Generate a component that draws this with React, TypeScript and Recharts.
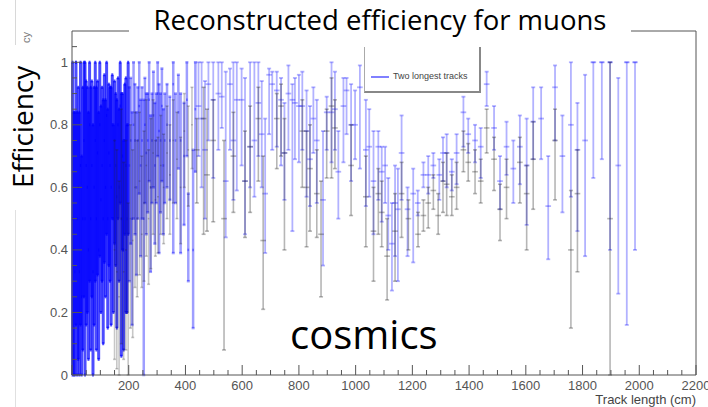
import React from 'react';
import { ComposedChart, Scatter, ErrorBar, XAxis, YAxis, ReferenceLine } from 'recharts';

type Row = [number, number, number, number]; // [track length cm, efficiency, lower bound, upper bound]

const titleText = 'Reconstructed efficiency for muons';
const yTitle = 'Efficiency';
const xTitle = 'Track length (cm)';
const sampleLabel = 'cosmics';
const legendLabel = 'Two longest tracks';

const xTicks = [0, 50, 100, 150, 200, 250, 300, 350, 400, 450, 500, 550, 600, 650, 700, 750, 800, 850, 900, 950, 1000, 1050, 1100, 1150, 1200, 1250, 1300, 1350, 1400, 1450, 1500, 1550, 1600, 1650, 1700, 1750, 1800, 1850, 1900, 1950, 2000, 2050, 2100, 2150, 2200];
const yTicks = [0, 0.05, 0.1, 0.15, 0.2, 0.25, 0.3, 0.35, 0.4, 0.45, 0.5, 0.55, 0.6, 0.65, 0.7, 0.75, 0.8, 0.85, 0.9, 0.95, 1, 1.05];

// Two longest tracks: short tracks (fine bins)
const blueShort: Row[] = [
  [2, 0.5, 0, 1], [6, 0.4, 0, 0.84], [10, 0.33, 0, 0.84], [14, 1.0, 0.16, 1.0], [18, 0.5, 0, 0.84],
  [22, 0.6, 0.05, 0.92], [26, 0.33, 0, 0.84], [30, 0.67, 0.16, 1.0], [34, 0.25, 0, 0.7], [38, 0.5, 0.08, 0.92],
  [42, 0.75, 0.25, 1.0], [46, 0.5, 0, 1], [50, 0.67, 0.16, 0.94], [54, 0.6, 0.2, 0.92], [58, 0.4, 0.05, 0.84],
  [62, 0.8, 0.3, 1.0], [66, 0.5, 0.08, 0.92], [70, 0.67, 0.25, 0.94], [74, 0.33, 0, 0.8], [78, 0.6, 0.16, 0.92],
  [82, 0.75, 0.3, 1.0], [86, 0.5, 0.08, 0.92], [90, 0.71, 0.32, 0.94], [94, 0.4, 0.05, 0.84], [98, 0.8, 0.38, 1.0],
  [102, 0.56, 0.2, 0.86], [106, 0.67, 0.3, 0.92], [110, 0.5, 0.1, 0.88], [114, 0.75, 0.36, 0.96], [118, 0.6, 0.25, 0.88],
  [122, 0.83, 0.45, 1.0], [126, 0.5, 0.15, 0.85], [130, 0.71, 0.35, 0.93], [134, 0.67, 0.3, 0.92], [138, 0.6, 0.16, 0.92],
  [142, 0.8, 0.5, 0.96], [146, 0.5, 0.2, 0.8], [150, 0.75, 0.42, 0.94], [154, 0.67, 0.35, 0.9], [158, 0.57, 0.15, 0.88],
  [162, 0.8, 0.5, 0.95], [166, 0.6, 0.3, 0.85], [170, 0.86, 0.55, 1.0], [174, 0.5, 0.06, 0.9], [178, 0.7, 0.4, 0.9],
  [182, 0.4, 0.08, 0.75], [186, 0.75, 0.45, 0.93], [190, 0.67, 0.2, 0.95], [194, 0.5, 0.2, 0.8], [198, 0.8, 0.45, 1.0],
];

// Two longest tracks: medium tracks
const blueMid: Row[] = [
  [202, 0.67, 0.3, 0.92], [207, 0.75, 0.42, 0.95], [212, 0.5, 0.16, 0.84], [217, 0.8, 0.5, 1.0], [222, 0.75, 0.45, 0.93],
  [227, 0.6, 0.32, 0.84], [232, 0.75, 0.5, 0.92], [237, 0.86, 0.58, 1.0], [242, 0.67, 0.38, 0.88], [247, 0.75, 0.5, 0.92],
  [253, 0.5, 0.0, 0.88], [257, 0.8, 0.55, 0.95], [262, 0.71, 0.45, 0.9], [267, 0.75, 0.52, 0.9], [272, 0.88, 0.62, 1.0],
  [277, 0.6, 0.33, 0.83], [282, 0.75, 0.55, 0.9], [287, 0.83, 0.6, 0.97], [292, 0.67, 0.42, 0.87], [297, 0.75, 0.55, 0.9],
  [302, 0.9, 0.7, 1.0], [307, 0.78, 0.39, 0.93], [312, 0.75, 0.52, 0.9], [317, 0.86, 0.62, 0.98], [322, 0.67, 0.45, 0.85],
  [327, 0.75, 0.55, 0.9], [335, 0.8, 0.6, 0.93], [345, 0.75, 0.56, 0.89], [357, 0.93, 0.39, 1.0], [365, 0.75, 0.55, 0.9],
  [375, 0.84, 0.66, 0.96], [383, 0.75, 0.39, 0.9], [395, 0.7, 0.48, 0.87], [405, 0.88, 0.7, 1.0], [410, 0.4, 0.3, 0.58],
  [427, 0.4, 0.15, 0.72], [435, 0.85, 0.65, 1.0],
];

// Two longest tracks: long tracks
const blueLong: Row[] = [
  [446, 0.86, 0.7, 1.0], [457, 0.82, 0.6, 1.0], [469, 0.72, 0.5, 0.94], [481, 0.93, 0.75, 1.0], [498, 0.88, 0.63, 1.0],
  [516, 0.9, 0.72, 1.0], [528, 0.89, 0.79, 1.0], [542, 0.62, 0.44, 0.97], [557, 0.93, 0.72, 0.98], [569, 0.75, 0.56, 1.0],
  [581, 0.88, 0.59, 1.0], [598, 0.88, 0.67, 0.98], [610, 0.62, 0.45, 0.95], [628, 0.73, 0.6, 1.0], [643, 0.75, 0.57, 1.0],
  [657, 0.87, 0.7, 1.0], [669, 0.77, 0.6, 0.94], [681, 0.58, 0.39, 0.82], [695, 0.96, 0.77, 0.98], [706, 0.93, 0.72, 0.97],
  [722, 0.91, 0.73, 0.97], [737, 0.88, 0.67, 0.95], [749, 0.71, 0.56, 0.87], [763, 0.9, 0.72, 0.99], [777, 0.88, 0.46, 0.93],
  [786, 0.87, 0.69, 0.95], [800, 0.86, 0.68, 0.96], [812, 0.86, 0.72, 0.97], [827, 0.78, 0.57, 0.91], [839, 0.69, 0.54, 0.86],
  [851, 0.82, 0.71, 0.92], [863, 0.75, 0.55, 0.88], [885, 0.56, 0.35, 0.78], [898, 0.84, 0.72, 0.89], [915, 0.84, 0.68, 1.0],
  [927, 0.85, 0.72, 0.97], [939, 0.65, 0.5, 0.78], [957, 0.86, 0.68, 0.95], [968, 0.91, 0.77, 0.95], [984, 0.8, 0.62, 0.93],
  [998, 0.8, 0.69, 0.91], [1015, 0.92, 0.66, 0.99], [1036, 0.72, 0.54, 0.88], [1048, 0.73, 0.57, 0.85], [1063, 0.62, 0.45, 0.78],
  [1080, 0.73, 0.56, 0.78], [1092, 0.65, 0.49, 0.73], [1104, 0.67, 0.55, 0.73], [1115, 0.51, 0.4, 0.63], [1128, 0.42, 0.27, 0.55],
  [1139, 0.55, 0.38, 0.67], [1149, 0.53, 0.3, 0.66], [1162, 0.71, 0.56, 0.83], [1183, 0.53, 0.38, 0.6], [1203, 0.58, 0.36, 0.66],
  [1219, 0.55, 0.51, 0.59], [1239, 0.64, 0.6, 0.68], [1256, 0.64, 0.58, 0.7], [1274, 0.67, 0.63, 0.71], [1295, 0.64, 0.56, 0.69],
  [1308, 0.71, 0.62, 0.76], [1321, 0.71, 0.6, 0.77], [1339, 0.65, 0.59, 0.69], [1356, 0.71, 0.61, 0.77], [1380, 0.84, 0.73, 0.89],
  [1397, 0.77, 0.71, 0.82], [1421, 0.75, 0.68, 0.8], [1441, 0.73, 0.63, 0.79], [1462, 0.93, 0.86, 0.97], [1488, 0.79, 0.72, 0.86],
  [1509, 0.62, 0.53, 0.7], [1532, 0.73, 0.64, 0.81], [1556, 0.66, 0.55, 0.75], [1579, 0.73, 0.61, 0.83], [1603, 0.67, 0.48, 0.82],
  [1626, 0.81, 0.69, 0.92], [1654, 0.82, 0.69, 0.92], [1679, 0.54, 0.37, 0.7], [1703, 0.92, 0.75, 0.99], [1729, 0.7, 0.52, 0.83],
  [1759, 0.8, 0.57, 1.0], [1782, 0.72, 0.46, 0.87], [1809, 0.75, 0.38, 0.96], [1838, 1.0, 0.63, 1.0], [1868, 1.0, 0.69, 1.0],
  [1897, 1.0, 0.4, 1.0], [1926, 0.67, 0.26, 0.95], [1956, 1.0, 0.16, 1.0], [1985, 1.0, 0.4, 1.0],
];

// Other selection (grey)
const greyShort: Row[] = [
  [150, 0.4, 0.05, 0.75], [158, 0.33, 0.02, 0.72], [166, 0.25, 0, 0.62], [174, 0.5, 0.1, 0.85], [182, 0.33, 0.05, 0.68],
  [190, 0.4, 0.08, 0.75], [198, 0.2, 0, 0.55], [206, 0.5, 0.15, 0.8], [214, 0.43, 0.12, 0.72], [222, 0.6, 0.28, 0.84],
  [230, 0.5, 0.25, 0.75], [238, 0.62, 0.32, 0.84], [246, 0.45, 0.28, 0.7], [254, 0.55, 0.3, 0.78], [262, 0.67, 0.38, 0.88],
  [270, 0.5, 0.29, 0.72], [278, 0.6, 0.34, 0.82], [286, 0.71, 0.45, 0.88], [294, 0.56, 0.38, 0.75], [303, 0.57, 0.39, 0.76],
  [313, 0.67, 0.45, 0.83], [323, 0.6, 0.42, 0.77], [335, 0.71, 0.5, 0.86], [345, 0.64, 0.45, 0.8], [357, 0.75, 0.55, 0.88],
  [370, 0.69, 0.5, 0.84], [383, 0.6, 0.42, 0.76], [396, 0.78, 0.6, 0.9], [410, 0.72, 0.54, 0.86], [423, 0.8, 0.66, 0.92],
];

const greyLong: Row[] = [
  [440, 0.72, 0.55, 0.82], [464, 0.82, 0.45, 0.92], [476, 0.64, 0.46, 0.85], [498, 0.75, 0.49, 0.88], [536, 0.5, 0.08, 0.75],
  [569, 0.7, 0.52, 0.84], [610, 0.62, 0.44, 0.78], [628, 0.73, 0.52, 0.86], [657, 0.82, 0.62, 0.92], [674, 0.43, 0.21, 0.7],
  [722, 0.82, 0.66, 0.9], [737, 0.86, 0.7, 0.93], [749, 0.71, 0.4, 0.82], [812, 0.78, 0.6, 0.88], [827, 0.6, 0.41, 0.78],
  [839, 0.66, 0.46, 0.8], [863, 0.58, 0.44, 0.72], [878, 0.45, 0.25, 0.62], [898, 0.78, 0.63, 0.85], [915, 0.86, 0.63, 0.95],
  [927, 0.79, 0.66, 0.88], [984, 0.67, 0.51, 0.8], [1036, 0.57, 0.41, 0.7], [1063, 0.46, 0.3, 0.6], [1080, 0.58, 0.45, 0.66],
  [1092, 0.52, 0.41, 0.62], [1111, 0.38, 0.24, 0.5], [1139, 0.46, 0.3, 0.58], [1162, 0.58, 0.44, 0.68], [1186, 0.5, 0.4, 0.56],
  [1220, 0.45, 0.41, 0.52], [1239, 0.51, 0.46, 0.56], [1256, 0.55, 0.47, 0.6], [1274, 0.59, 0.53, 0.64], [1291, 0.51, 0.45, 0.58],
  [1308, 0.62, 0.52, 0.68], [1321, 0.61, 0.51, 0.71], [1339, 0.57, 0.51, 0.64], [1356, 0.6, 0.53, 0.68], [1380, 0.72, 0.65, 0.78],
  [1397, 0.68, 0.62, 0.74], [1421, 0.65, 0.58, 0.72], [1441, 0.62, 0.55, 0.69], [1462, 0.79, 0.71, 0.85], [1488, 0.69, 0.59, 0.76],
  [1509, 0.53, 0.43, 0.61], [1532, 0.6, 0.5, 0.69], [1579, 0.68, 0.55, 0.76], [1603, 0.58, 0.4, 0.67], [1626, 0.69, 0.53, 0.81],
  [1703, 0.75, 0.56, 0.85], [1759, 0.4, 0.15, 0.59], [1782, 0.58, 0.33, 0.72], [1897, 0.5, 0.0, 1.0],
];

// bin half-widths (cm)
const halfShort = 2;
const halfMid = 3;
const halfLong = 10;

const toPoints = (rows: Row[], half: number) =>
  rows.map(([x, y, lo, hi]) => ({ x, y, errY: [y - lo, hi - y], errX: [half, half] }));

const BLUE_DENSE = 'rgba(0,0,255,0.7)';
const BLUE_MID = 'rgba(0,0,255,0.38)';
const BLUE = 'rgba(0,0,255,0.3)';
const GREY_SHORT = 'rgba(40,40,40,0.26)';
const GREY = 'rgba(40,40,40,0.34)';
const AXIS = '#555';
const LABEL_FONT = '"Liberation Sans", Arial, sans-serif';
const TEXT_FONT = '"Open Sans", sans-serif';

const noShape = () => <g />;

const renderXTick = (props: any) => {
  const { x, y, payload } = props;
  const v = payload.value as number;
  const major = v % 200 === 0;
  return (
    <g>
      <line x1={x} x2={x} y1={y} y2={y - (major ? 10 : 5)} stroke={AXIS} strokeWidth={1} />
      {major && v > 0 ? (
        <text x={x} y={y + 15} textAnchor="middle" fontSize={13} fill="#555" fontFamily={LABEL_FONT}>
          {v}
        </text>
      ) : null}
    </g>
  );
};

const renderYTick = (props: any) => {
  const { x, y, payload } = props;
  const v = payload.value as number;
  const major = Math.abs(v * 5 - Math.round(v * 5)) < 1e-6;
  return (
    <g>
      <line x1={x} x2={x + (major ? 10 : 5)} y1={y} y2={y} stroke={AXIS} strokeWidth={1} />
      {major ? (
        <text x={x - 4} y={y + 4.5} textAnchor="end" fontSize={13} fill="#555" fontFamily={LABEL_FONT}>
          {Number(v.toFixed(1))}
        </text>
      ) : null}
    </g>
  );
};

const series = [
  { name: 'dense', data: toPoints(blueShort, halfShort), stroke: BLUE_DENSE, sw: 3, cap: 1 },
  { name: legendLabel, data: toPoints(blueMid, halfMid), stroke: BLUE_MID, sw: 2.5, cap: 1.5 },
  { name: legendLabel + ' long', data: toPoints(blueLong, halfLong), stroke: BLUE, sw: 1.8, cap: 2 },
  { name: 'grey short', data: toPoints(greyShort, halfMid), stroke: GREY_SHORT, sw: 1.6, cap: 1.5 },
  { name: 'grey long', data: toPoints(greyLong, halfLong), stroke: GREY, sw: 1.6, cap: 2 },
];

export default function App() {
  return (
    <div style={{ position: 'absolute', left: 0, top: 0, width: 708, height: 407, background: '#fff', overflow: 'hidden' }}>
      <ComposedChart width={708} height={407} margin={{ top: 31, right: 12, bottom: 2, left: 32 }}>
        <XAxis
          type="number"
          dataKey="x"
          domain={[0, 2200]}
          allowDataOverflow
          ticks={xTicks}
          interval={0}
          tickSize={0}
          tickMargin={0}
          tickLine={false}
          height={30}
          stroke={AXIS}
          tick={renderXTick}
        />
        <YAxis
          type="number"
          dataKey="y"
          domain={[0, 1.1]}
          allowDataOverflow
          ticks={yTicks}
          interval={0}
          tickSize={0}
          tickMargin={0}
          tickLine={false}
          width={40}
          stroke={AXIS}
          tick={renderYTick}
        />
        <ReferenceLine x={2200} stroke={AXIS} strokeWidth={1} />
        <ReferenceLine y={1.1} stroke={AXIS} strokeWidth={1} />
        {series.map((s) => (
          <Scatter key={s.name} name={s.name} data={s.data} shape={noShape} isAnimationActive={false}>
            <ErrorBar dataKey="errY" direction="y" width={s.cap} stroke={s.stroke} strokeWidth={s.sw} isAnimationActive={false} />
            <ErrorBar dataKey="errX" direction="x" width={0} stroke={s.stroke} strokeWidth={s.sw} isAnimationActive={false} />
          </Scatter>
        ))}
      </ComposedChart>

      {/* faint frame remnant at far left */}
      <div style={{ position: 'absolute', left: 15, top: 0, width: 1, height: 45, background: '#d8d8d8' }} />
      <div style={{ position: 'absolute', left: 15, top: 210, width: 1, height: 197, background: '#e0e0e0' }} />
      <div
        style={{
          position: 'absolute', left: 21, top: 43, transform: 'rotate(-90deg)', transformOrigin: 'left top',
          fontFamily: LABEL_FONT, fontSize: 11, lineHeight: '11px', color: '#777', whiteSpace: 'nowrap',
        }}
      >
        cy
      </div>

      {/* title with white backing */}
      <div
        style={{
          position: 'absolute', left: 129, top: 0, width: 502, height: 47, background: '#fff', boxSizing: 'border-box',
          paddingTop: 3, textAlign: 'center', fontFamily: TEXT_FONT, fontSize: 27.5, lineHeight: '34px', color: '#000',
          whiteSpace: 'nowrap',
        }}
      >
        {titleText}
      </div>

      {/* y title */}
      <div
        style={{
          position: 'absolute', left: 8, top: 188, transform: 'rotate(-90deg)', transformOrigin: 'left top',
          fontFamily: TEXT_FONT, fontSize: 28, lineHeight: '28px', color: '#000', whiteSpace: 'nowrap',
          background: '#fff',
        }}
      >
        {yTitle}
      </div>

      {/* legend */}
      <div
        style={{
          position: 'absolute', left: 364, top: 47, width: 117, height: 46, background: '#fff', boxSizing: 'border-box',
          borderLeft: '1px solid #aaa', borderRight: '2px solid #888', borderBottom: '2px solid #888',
        }}
      >
        <div style={{ position: 'absolute', left: 6, top: 29, width: 18, height: 1.5, background: '#8080ff' }} />
        <div
          style={{
            position: 'absolute', left: 28, top: 24, fontFamily: LABEL_FONT, fontSize: 9, lineHeight: '11px',
            color: '#444', whiteSpace: 'nowrap',
          }}
        >
          {legendLabel}
        </div>
      </div>

      {/* x title */}
      <div
        style={{
          position: 'absolute', right: 12, top: 393, fontFamily: LABEL_FONT, fontSize: 13, lineHeight: '13px',
          color: '#444', whiteSpace: 'nowrap',
        }}
      >
        {xTitle}
      </div>

      {/* sample label */}
      <div
        style={{
          position: 'absolute', left: 290, top: 314, fontFamily: TEXT_FONT, fontSize: 40, lineHeight: '40px',
          color: '#000', whiteSpace: 'nowrap',
        }}
      >
        {sampleLabel}
      </div>
    </div>
  );
}
